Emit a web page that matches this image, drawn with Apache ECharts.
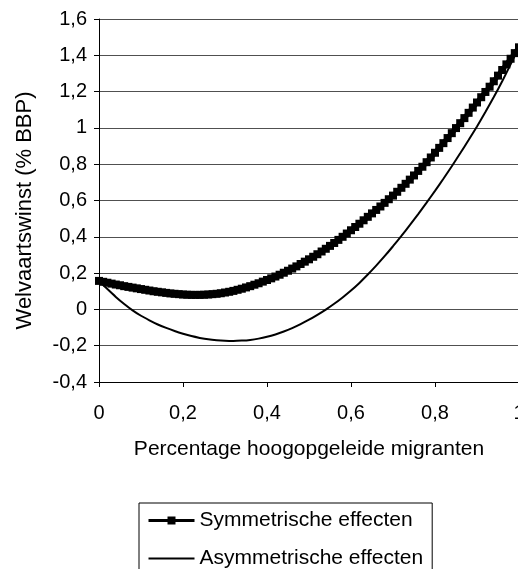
<!DOCTYPE html>
<html>
<head>
<meta charset="utf-8">
<script src="https://cdn.jsdelivr.net/npm/echarts@6/dist/echarts.min.js"></script>
<style>
html,body{margin:0;padding:0;background:#fff;}
#chart{width:518px;height:569px;}
</style>
</head>
<body>
<div id="chart"></div>
<script>
var seriesNames = ['Symmetrische effecten', 'Asymmetrische effecten'];
var xTitle = 'Percentage hoogopgeleide migranten';
var yTitle = 'Welvaartswinst (% BBP)';

var xSym = [0.00,0.01,0.02,0.03,0.04,0.05,0.06,0.07,0.08,0.09,
  0.10,0.11,0.12,0.13,0.14,0.15,0.16,0.17,0.18,0.19,
  0.20,0.21,0.22,0.23,0.24,0.25,0.26,0.27,0.28,0.29,
  0.30,0.31,0.32,0.33,0.34,0.35,0.36,0.37,0.38,0.39,
  0.40,0.41,0.42,0.43,0.44,0.45,0.46,0.47,0.48,0.49,
  0.50,0.51,0.52,0.53,0.54,0.55,0.56,0.57,0.58,0.59,
  0.60,0.61,0.62,0.63,0.64,0.65,0.66,0.67,0.68,0.69,
  0.70,0.71,0.72,0.73,0.74,0.75,0.76,0.77,0.78,0.79,
  0.80,0.81,0.82,0.83,0.84,0.85,0.86,0.87,0.88,0.89,
  0.90,0.91,0.92,0.93,0.94,0.95,0.96,0.97,0.98,0.99,1.00];
var ySym = [0.157,0.152,0.147,0.142,0.137,0.133,0.128,0.124,0.120,0.116,
  0.112,0.108,0.104,0.100,0.097,0.094,0.091,0.088,0.086,0.084,
  0.082,0.081,0.080,0.080,0.080,0.081,0.082,0.084,0.086,0.089,
  0.093,0.097,0.102,0.108,0.114,0.121,0.128,0.136,0.144,0.153,
  0.162,0.171,0.181,0.191,0.202,0.213,0.225,0.237,0.250,0.263,
  0.276,0.290,0.304,0.319,0.334,0.350,0.366,0.383,0.400,0.418,
  0.436,0.454,0.472,0.491,0.510,0.529,0.548,0.567,0.587,0.607,
  0.627,0.648,0.670,0.692,0.715,0.738,0.763,0.786,0.811,0.837,
  0.863,0.890,0.916,0.944,0.971,0.999,1.026,1.054,1.083,1.112,
  1.140,1.169,1.198,1.227,1.257,1.288,1.319,1.350,1.381,1.412,1.444];

var xAsym = [0.00,0.02,0.04,0.06,0.08,0.10,0.12,0.14,0.16,0.18,
  0.20,0.22,0.24,0.26,0.28,0.30,0.32,0.34,0.36,0.38,
  0.40,0.42,0.44,0.46,0.48,0.50,0.52,0.54,0.56,0.58,
  0.60,0.62,0.64,0.66,0.68,0.70,0.72,0.74,0.76,0.78,
  0.80,0.82,0.84,0.86,0.88,0.90,0.92,0.94,0.96,0.98,1.00];
var yAsym = [0.157,0.112,0.069,0.030,-0.005,-0.035,-0.060,-0.083,-0.102,-0.119,
  -0.134,-0.147,-0.157,-0.165,-0.170,-0.173,-0.174,-0.172,-0.168,-0.161,
  -0.151,-0.138,-0.122,-0.103,-0.081,-0.057,-0.030,-0.001,0.031,0.066,
  0.104,0.146,0.192,0.241,0.293,0.348,0.405,0.464,0.525,0.588,
  0.653,0.720,0.789,0.860,0.933,1.008,1.087,1.170,1.257,1.350,1.447];

var xTicks = {min: 0, max: 1, interval: 0.2};
var yTicks = {min: -0.4, max: 1.6, interval: 0.2};

function pairs(xs, ys) {
  return xs.map(function (x, i) { return [x, ys[i]]; });
}
function fmt(v) {
  var s = String(Math.round(v * 10) / 10);
  if (s === '-0') s = '0';
  return s.replace('.', ',');
}

var FONT = "'Liberation Sans', Arial, sans-serif";
var chart = echarts.init(document.getElementById('chart'), null, {renderer: 'canvas'});
chart.setOption({
  animation: false,
  backgroundColor: '#ffffff',
  textStyle: {fontFamily: FONT, color: '#000'},
  grid: {left: 99, top: 19, width: 420, height: 363, containLabel: false, outerBoundsMode: 'none'},
  legend: {
    orient: 'vertical',
    left: 139,
    top: 503,
    height: 90,
    padding: [7, 9, 7, 8],
    itemGap: 17,
    itemWidth: 46,
    itemHeight: 10,
    symbolKeepAspect: true,
    borderColor: '#000',
    borderWidth: 1,
    textStyle: {fontFamily: FONT, fontSize: 21, color: '#000'},
    data: [
      {name: seriesNames[0], lineStyle: {width: 3}},
      {name: seriesNames[1], icon: 'path://M0 0H46V2H0Z'}
    ]
  },
  xAxis: {
    type: 'value',
    min: xTicks.min, max: xTicks.max, interval: xTicks.interval,
    name: xTitle,
    nameLocation: 'middle',
    nameGap: 57,
    nameTextStyle: {fontFamily: FONT, fontSize: 21, color: '#000'},
    axisLine: {onZero: false, lineStyle: {color: '#000', width: 1}},
    axisTick: {show: true, inside: false, length: 5, lineStyle: {color: '#000'}},
    axisLabel: {fontFamily: FONT, fontSize: 20, color: '#000', margin: 21, formatter: fmt, showMaxLabel: true, hideOverlap: false},
    splitLine: {show: false}
  },
  yAxis: {
    type: 'value',
    min: yTicks.min, max: yTicks.max, interval: yTicks.interval,
    name: yTitle,
    nameLocation: 'middle',
    nameGap: 63,
    nameRotate: 90,
    nameTextStyle: {fontFamily: FONT, fontSize: 22, color: '#000', padding: [0, 20, 0, 0]},
    axisLine: {show: true, onZero: false, lineStyle: {color: '#000', width: 1}},
    axisTick: {show: true, inside: false, length: 5, lineStyle: {color: '#000'}},
    axisLabel: {fontFamily: FONT, fontSize: 20, color: '#000', margin: 12, formatter: fmt},
    splitLine: {show: true, lineStyle: {color: '#505050', width: 1}}
  },
  series: [
    {
      name: seriesNames[0],
      type: 'line',
      data: pairs(xSym, ySym),
      showSymbol: true,
      symbol: 'rect',
      symbolSize: 8,
      itemStyle: {color: '#000'},
      lineStyle: {color: '#000', width: 5},
      emphasis: {disabled: true},
      z: 3
    },
    {
      name: seriesNames[1],
      type: 'line',
      data: pairs(xAsym, yAsym),
      smooth: 0.2,
      showSymbol: false,
      symbol: 'none',
      itemStyle: {color: '#000'},
      lineStyle: {color: '#000', width: 2},
      emphasis: {disabled: true},
      z: 2
    }
  ]
});
</script>
</body>
</html>
